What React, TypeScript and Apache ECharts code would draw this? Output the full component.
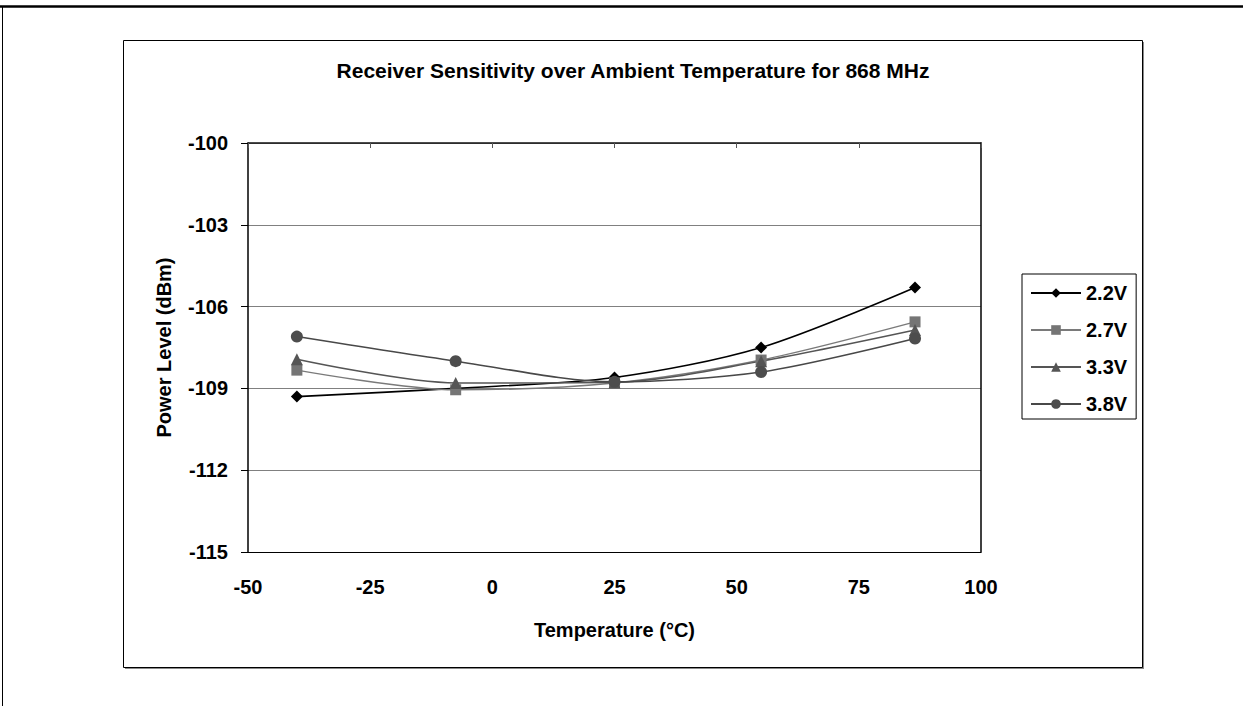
import React, { useEffect, useRef } from "react";
import * as echarts from "echarts";

const chartTitle = "Receiver Sensitivity over Ambient Temperature for 868 MHz";
const xTitle = "Temperature (°C)";
const yTitle = "Power Level (dBm)";
const temps = [-40, -7.5, 25, 55, 86.5];
const seriesNames = ["2.2V", "2.7V", "3.3V", "3.8V"];
const v22 = [-109.3, -109.0, -108.6, -107.5, -105.3];
const v27 = [-108.33, -109.05, -108.8, -107.96, -106.56];
const v33 = [-107.93, -108.8, -108.78, -108.0, -106.86];
const v38 = [-107.1, -108.0, -108.76, -108.4, -107.17];
const yTicks = [-115, -112, -109, -106, -103, -100];
const xTicks = [-50, -25, 0, 25, 50, 75, 100];

const FONT = "'Liberation Sans', Arial, sans-serif";
const FS = 20;

export default function App() {
  const ref = useRef<HTMLDivElement>(null);
  useEffect(() => {
    if (!ref.current) return;
    const chart = echarts.init(ref.current, undefined, { renderer: "svg" });
    const mk = (name: string, vals: number[], symbol: string, size: number, lineColor: string, symColor: string, lw: number) => ({
      name,
      type: "line",
      data: temps.map((t, i) => [t, vals[i]]),
      smooth: 0.3,
      symbol,
      symbolSize: size,
      lineStyle: { color: lineColor, width: lw },
      itemStyle: { color: symColor },
      z: 3,
    });
    const txt = { fontFamily: FONT, fontWeight: "bold", fontSize: FS, color: "#000" };
    chart.setOption({
      animation: false,
      backgroundColor: "#ffffff",
      title: {
        text: chartTitle,
        left: 633,
        top: 60,
        padding: 0,
        textAlign: "center",
        textStyle: { ...txt, fontSize: 21 },
      },
      graphic: [
        { type: "line", z: -10, shape: { x1: 0, y1: 6.5, x2: 1243, y2: 6.5 }, style: { stroke: "#000", lineWidth: 2.5 } },
        { type: "line", z: -10, shape: { x1: 2.5, y1: 6, x2: 2.5, y2: 706 }, style: { stroke: "#000", lineWidth: 1 } },
        { type: "rect", z: -10, shape: { x: 125, y: 42, width: 1019, height: 627 }, style: { fill: "#8a8a8a" } },
        { type: "rect", z: -9, shape: { x: 123.5, y: 40.5, width: 1019, height: 627 }, style: { fill: "#fff", stroke: "#000", lineWidth: 1 } },
      ],
      grid: { left: 248, top: 143, width: 733, height: 409, containLabel: false },
      xAxis: [
        {
          type: "value",
          position: "bottom",
          min: xTicks[0],
          max: xTicks[xTicks.length - 1],
          interval: 25,
          axisLine: { show: true, onZero: false, lineStyle: { color: "#000", width: 1 } },
          axisTick: { show: false },
          splitLine: { show: false },
          axisLabel: { margin: 25, ...txt },
          name: xTitle,
          nameLocation: "middle",
          nameGap: 68,
          nameTextStyle: txt,
        },
        {
          type: "value",
          position: "top",
          min: xTicks[0],
          max: xTicks[xTicks.length - 1],
          interval: 25,
          axisLine: { show: true, onZero: false, lineStyle: { color: "#111", width: 1.5 } },
          axisTick: { show: true, inside: true, length: 5, lineStyle: { color: "#555" } },
          splitLine: { show: false },
          axisLabel: { show: false },
        },
      ],
      yAxis: [
        {
          type: "value",
          position: "left",
          min: yTicks[0],
          max: yTicks[yTicks.length - 1],
          axisLine: { show: true, onZero: false, lineStyle: { color: "#000", width: 1.5 } },
          axisTick: { show: true, inside: false, length: 7, customValues: yTicks, lineStyle: { color: "#000" } },
          axisLabel: { margin: 20, customValues: yTicks, ...txt },
          splitLine: { show: true, lineStyle: { color: "#808080", width: 1 } },
          name: yTitle,
          nameLocation: "middle",
          nameGap: 74,
          nameTextStyle: txt,
        },
        {
          type: "value",
          position: "right",
          min: yTicks[0],
          max: yTicks[yTicks.length - 1],
          axisLine: { show: true, onZero: false, lineStyle: { color: "#000", width: 1.5 } },
          axisTick: { show: false },
          axisLabel: { show: false },
          splitLine: { show: false },
        },
      ],
      legend: {
        orient: "vertical",
        left: 1022,
        top: 274,
        padding: [9, 9, 5, 8],
        itemWidth: 50,
        itemHeight: 12,
        itemGap: 17,
        borderColor: "#000",
        borderWidth: 1,
        backgroundColor: "#fff",
        data: seriesNames,
        textStyle: { ...txt, lineHeight: 20 },
      },
      series: [
        mk(seriesNames[0], v22, "diamond", 12, "#000", "#000", 1.6),
        mk(seriesNames[1], v27, "rect", 11, "#7a7a7a", "#757575", 1.5),
        mk(seriesNames[2], v33, "triangle", 12, "#555", "#555", 1.5),
        mk(seriesNames[3], v38, "circle", 12, "#484848", "#4d4d4d", 1.5),
      ],
    });
    return () => chart.dispose();
  }, []);
  return <div ref={ref} style={{ position: "absolute", left: 0, top: 0, width: 1243, height: 706 }} />;
}
